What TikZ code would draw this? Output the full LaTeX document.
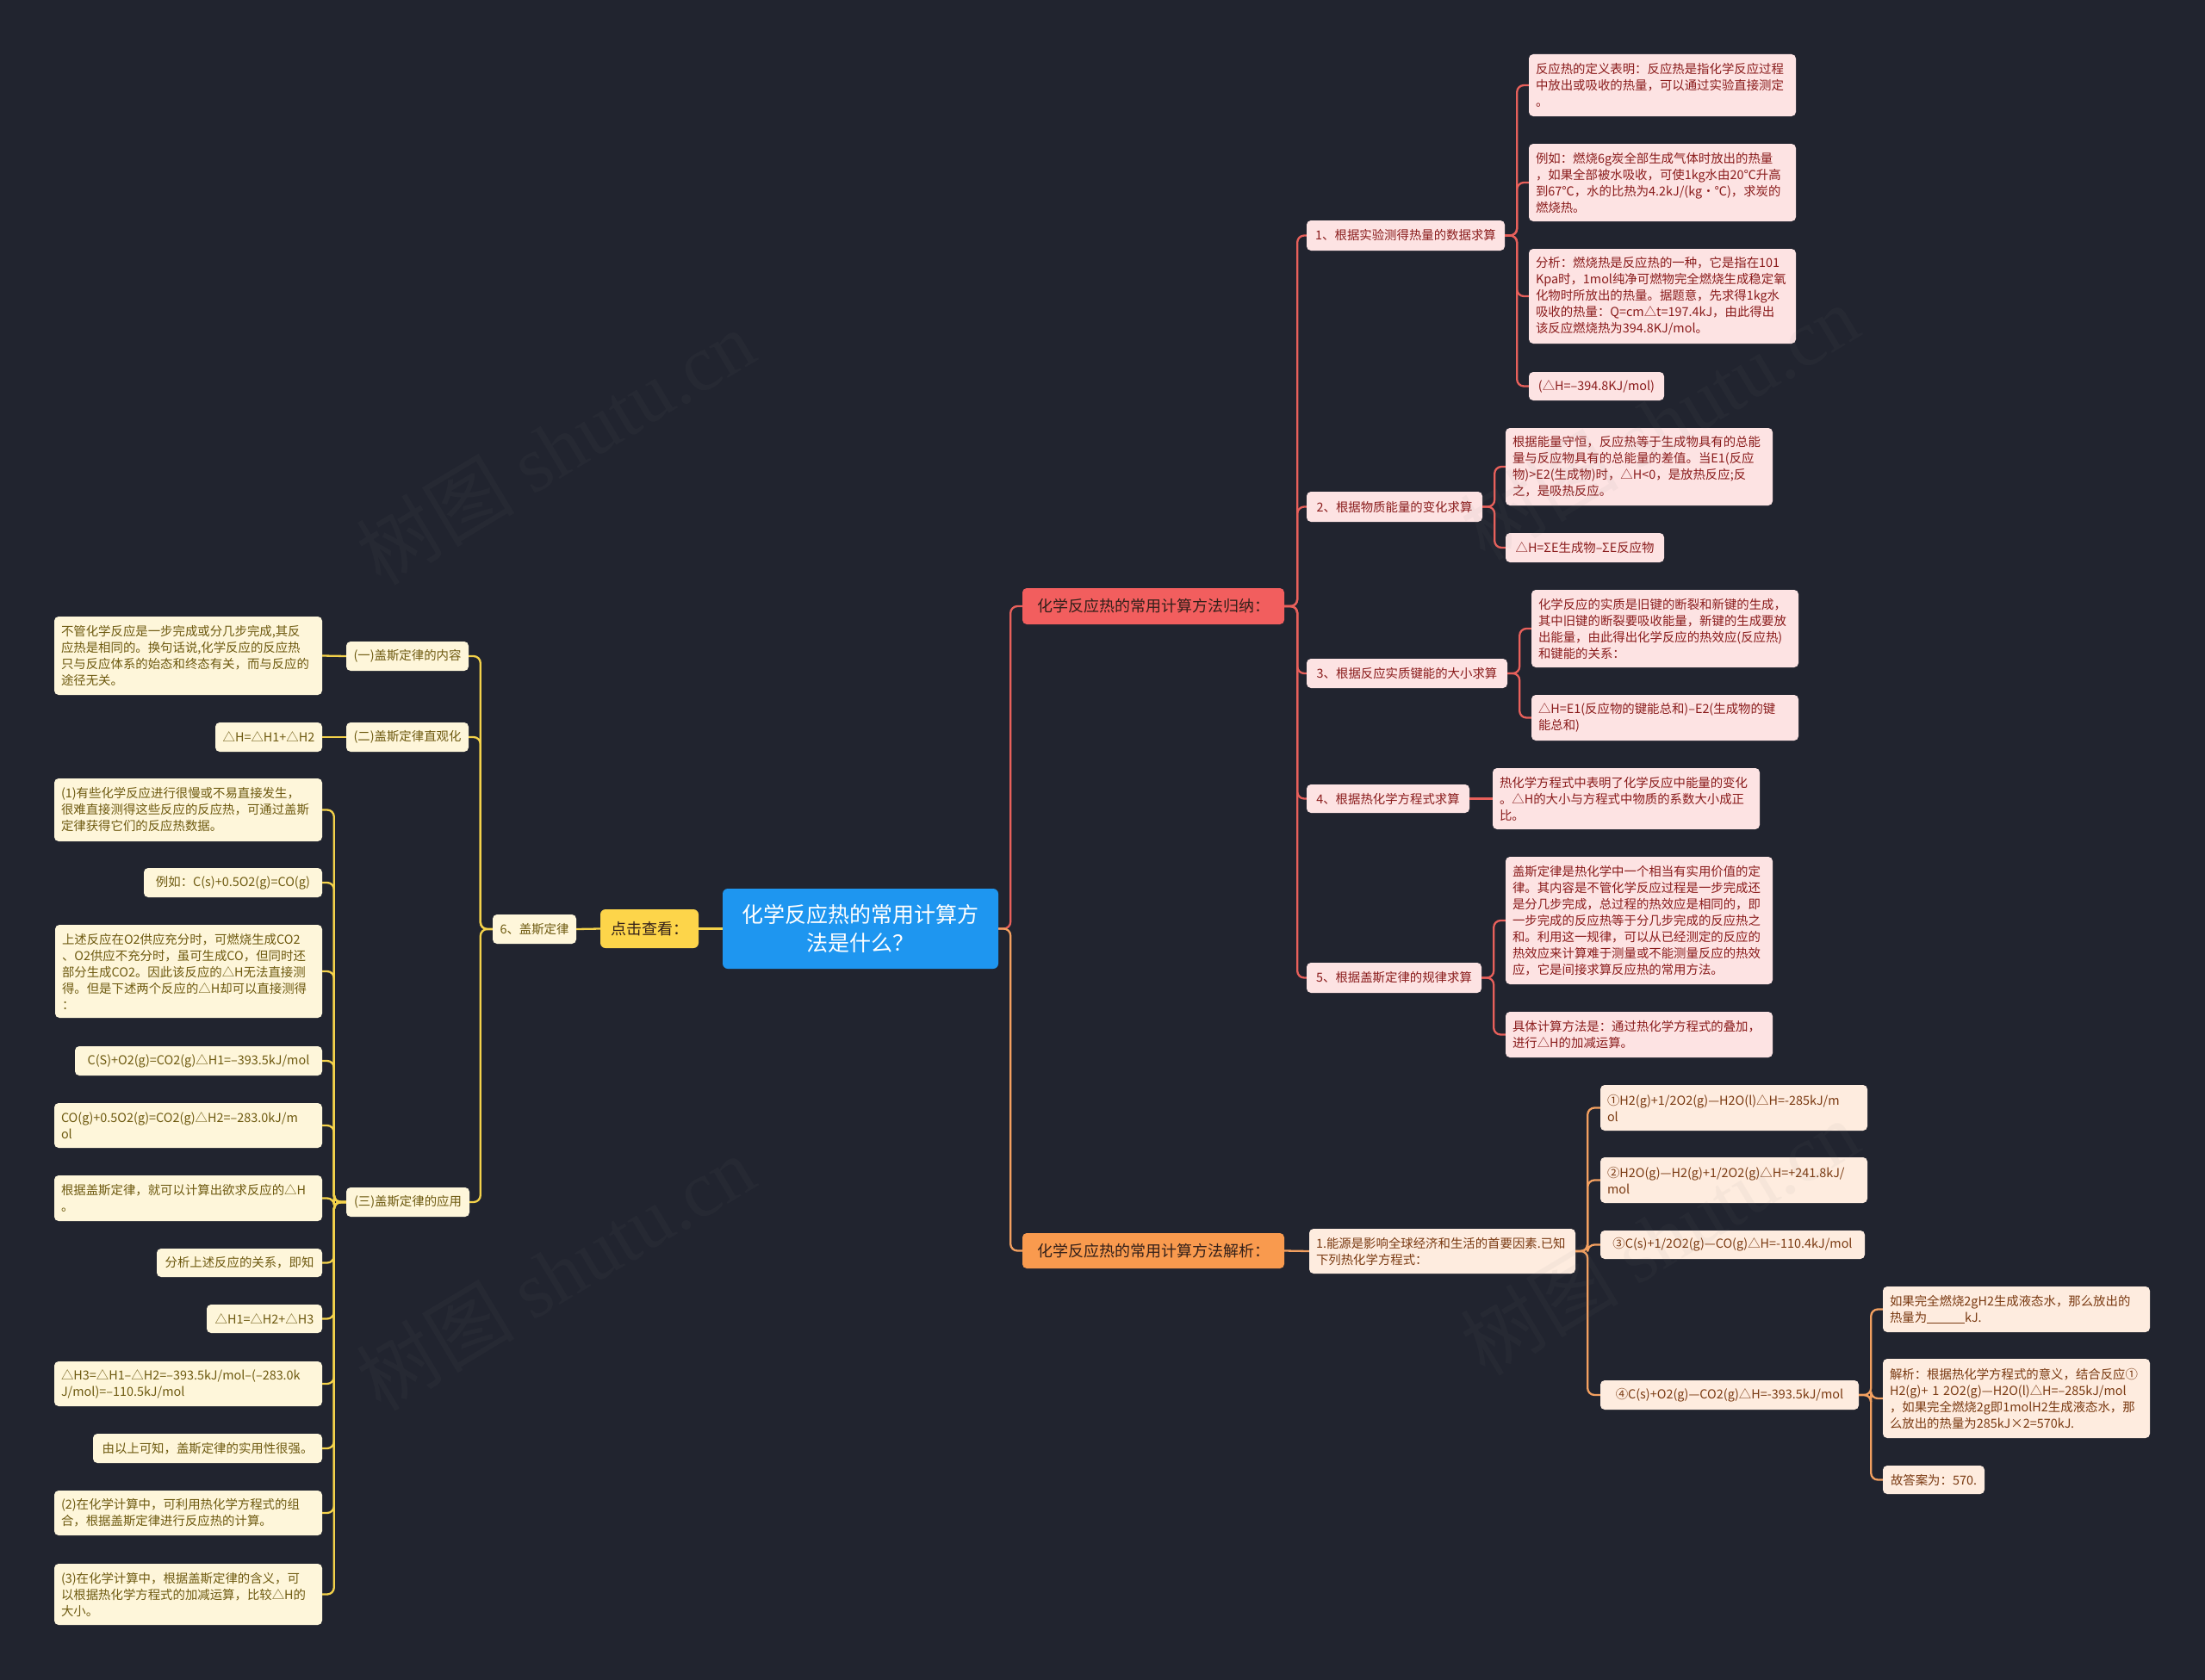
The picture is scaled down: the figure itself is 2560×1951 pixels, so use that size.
\documentclass[tikz,border=0pt]{standalone}
\usepackage{fontspec}
\setmainfont{Noto Sans CJK SC}
\newfontfamily\wmfont{Liberation Serif}
\usetikzlibrary{calc}
\definecolor{bg}{HTML}{21242F}
\definecolor{rfill}{HTML}{FDE3E3}
\definecolor{rtext}{HTML}{8A1C1C}
\definecolor{rline}{HTML}{E8605B}
\definecolor{rbr}{HTML}{F25E5E}
\definecolor{ofill}{HTML}{FEECDF}
\definecolor{otext}{HTML}{7A3A12}
\definecolor{oline}{HTML}{F3A060}
\definecolor{obr}{HTML}{F99A4E}
\definecolor{yfill}{HTML}{FEF6DA}
\definecolor{ytext}{HTML}{6E5A10}
\definecolor{yline}{HTML}{F4D24A}
\definecolor{ybr}{HTML}{FDD54A}
\definecolor{cblue}{HTML}{1E96F0}
\definecolor{dtext}{HTML}{33201A}
\newcommand\bx[7]{%
  \pgfmathsetmacro\bw{#5-#3}\pgfmathsetmacro\bh{#6-#4}%
  \pgfmathsetmacro\bcx{(#3+#5)/2}\pgfmathsetmacro\bcy{(#4+#6)/2}%
  \node[#1, minimum width=\bw pt, minimum height=\bh pt] (#2) at (\bcx,\bcy) {#7};}
\newcommand\mbx[7]{%
  \pgfmathsetmacro\bw{#5-#3}\pgfmathsetmacro\bh{#6-#4}\pgfmathsetmacro\btw{#5-#3-16}%
  \pgfmathsetmacro\bcx{(#3+#5)/2}\pgfmathsetmacro\bcy{(#4+#6)/2}%
  \node[align=left, #1, text width=\btw pt, minimum height=\bh pt] (#2) at (\bcx,\bcy) {#7};}
\begin{document}
\begin{tikzpicture}[x=1pt,y=-1pt,
  box/.style={rounded corners=5pt, inner xsep=8pt, inner ysep=3pt, font=\fontsize{14.4}{19}\selectfont},
  rbox/.style={box, fill=rfill, text=rtext},
  obox/.style={box, fill=ofill, text=otext},
  ybox/.style={box, fill=yfill, text=ytext},
  brbox/.style={rounded corners=5pt, inner xsep=10pt, inner ysep=3pt, font=\fontsize{18}{22}\selectfont},
  rl/.style={draw=rline, line width=2.3pt, rounded corners=8pt},
  ol/.style={draw=oline, line width=2.3pt, rounded corners=8pt},
  yl/.style={draw=yline, line width=2.3pt, rounded corners=8pt},
  wm/.style={text=gray, opacity=0.06, rotate=31, font=\fontsize{92}{92}\selectfont}]
\useasboundingbox (0,0) rectangle (2560,1951);
\fill[bg] (0,0) rectangle (2560,1951);

% central
\mbx{rounded corners=6pt, inner xsep=8pt, inner ysep=4pt, fill=cblue, text=white, font=\fontsize{25}{33}\selectfont, align=center}{C}{839}{1032}{1159}{1125}{化学反应热的常用计算方\\法是什么？}

% branches
\bx{brbox, fill=rbr, text=dtext}{RB}{1187}{683}{1491}{725}{化学反应热的常用计算方法归纳：}
\bx{brbox, fill=obr, text=dtext}{OB}{1187}{1432}{1491}{1473}{化学反应热的常用计算方法解析：}
\bx{brbox, fill=ybr, text=dtext, rounded corners=6pt}{YB}{697}{1056}{811}{1101}{点击查看：}

% red level 2
\bx{rbox}{R1}{1517}{256}{1747}{291}{1、根据实验测得热量的数据求算}
\bx{rbox}{R2}{1517}{571}{1721}{606}{2、根据物质能量的变化求算}
\bx{rbox}{R3}{1517}{765}{1750}{799}{3、根据反应实质键能的大小求算}
\bx{rbox}{R4}{1517}{911}{1706}{944}{4、根据热化学方程式求算}
\bx{rbox}{R5}{1517}{1118}{1720}{1153}{5、根据盖斯定律的规律求算}

% red leaves
\mbx{rbox}{R1a}{1775}{63}{2085}{135}{反应热的定义表明：反应热是指化学反应过程\\中放出或吸收的热量，可以通过实验直接测定\\。}
\mbx{rbox}{R1b}{1775}{167}{2085}{257}{例如：燃烧6g炭全部生成气体时放出的热量\\，如果全部被水吸收，可使1kg水由20℃升高\\到67℃，水的比热为4.2kJ/(kg·℃)，求炭的\\燃烧热。}
\mbx{rbox}{R1c}{1775}{289}{2085}{399}{分析：燃烧热是反应热的一种，它是指在101\\Kpa时，1mol纯净可燃物完全燃烧生成稳定氧\\化物时所放出的热量。据题意，先求得1kg水\\吸收的热量：Q=cm△t=197.4kJ，由此得出\\该反应燃烧热为394.8KJ/mol。}
\bx{rbox}{R1d}{1775}{432}{1932}{465}{(△H=–394.8KJ/mol)}
\mbx{rbox}{R2a}{1748}{497}{2058}{587}{根据能量守恒，反应热等于生成物具有的总能\\量与反应物具有的总能量的差值。当E1(反应\\物)>E2(生成物)时，△H<0，是放热反应;反\\之，是吸热反应。}
\bx{rbox}{R2b}{1748}{619}{1932}{653}{△H=ΣE生成物–ΣE反应物}
\mbx{rbox}{R3a}{1778}{685}{2088}{775}{化学反应的实质是旧键的断裂和新键的生成，\\其中旧键的断裂要吸收能量，新键的生成要放\\出能量，由此得出化学反应的热效应(反应热)\\和键能的关系：}
\mbx{rbox}{R3b}{1778}{807}{2088}{860}{△H=E1(反应物的键能总和)–E2(生成物的键\\能总和)}
\mbx{rbox}{R4a}{1733}{892}{2043}{963}{热化学方程式中表明了化学反应中能量的变化\\。△H的大小与方程式中物质的系数大小成正\\比。}
\mbx{rbox}{R5a}{1748}{995}{2058}{1143}{盖斯定律是热化学中一个相当有实用价值的定\\律。其内容是不管化学反应过程是一步完成还\\是分几步完成，总过程的热效应是相同的，即\\一步完成的反应热等于分几步完成的反应热之\\和。利用这一规律，可以从已经测定的反应的\\热效应来计算难于测量或不能测量反应的热效\\应，它是间接求算反应热的常用方法。}
\mbx{rbox}{R5b}{1748}{1175}{2058}{1228}{具体计算方法是：通过热化学方程式的叠加，\\进行△H的加减运算。}

% orange
\mbx{obox}{O1}{1520}{1427}{1829}{1479}{1.能源是影响全球经济和生活的首要因素.已知\\下列热化学方程式：}
\mbx{obox}{O1a}{1858}{1260}{2168}{1313}{①H2(g)+1/2O2(g)—H2O(l)△H=-285kJ/m\\ol}
\mbx{obox}{O1b}{1858}{1344}{2168}{1397}{②H2O(g)—H2(g)+1/2O2(g)△H=+241.8kJ/\\mol}
\bx{obox}{O1c}{1858}{1429}{2165}{1462}{③C(s)+1/2O2(g)—CO(g)△H=-110.4kJ/mol}
\bx{obox}{O1d}{1858}{1603}{2158}{1637}{④C(s)+O2(g)—CO2(g)△H=-393.5kJ/mol}
\mbx{obox}{O4a}{2186}{1494}{2496}{1547}{如果完全燃烧2gH2生成液态水，那么放出的\\热量为\rule[-2pt]{44pt}{0.8pt}kJ.}
\mbx{obox}{O4b}{2186}{1578}{2496}{1670}{解析：根据热化学方程式的意义，结合反应①\\H2(g)+ 1 2O2(g)—H2O(l)△H=–285kJ/mol\\，如果完全燃烧2g即1molH2生成液态水，那\\么放出的热量为285kJ×2=570kJ.}
\bx{obox}{O4c}{2186}{1702}{2304}{1735}{故答案为：570.}

% yellow
\bx{ybox}{Y6}{572}{1062}{669}{1096}{6、盖斯定律}
\bx{ybox}{Y1}{402}{745}{544}{779}{(一)盖斯定律的内容}
\bx{ybox}{Y2}{402}{839}{544}{873}{(二)盖斯定律直观化}
\bx{ybox}{Y3}{402}{1379}{545}{1413}{(三)盖斯定律的应用}
\mbx{ybox}{Y1a}{63}{716}{374}{807}{不管化学反应是一步完成或分几步完成,其反\\应热是相同的。换句话说,化学反应的反应热\\只与反应体系的始态和终态有关，而与反应的\\途径无关。}
\bx{ybox}{Y2a}{250}{839}{374}{873}{△H=△H1+△H2}
\mbx{ybox}{c1}{63}{904}{374}{977}{(1)有些化学反应进行很慢或不易直接发生，\\很难直接测得这些反应的反应热，可通过盖斯\\定律获得它们的反应热数据。}
\bx{ybox}{c2}{167}{1008}{374}{1042}{例如：C(s)+0.5O2(g)=CO(g)}
\mbx{ybox}{c3}{64}{1074}{374}{1182}{上述反应在O2供应充分时，可燃烧生成CO2\\、O2供应不充分时，虽可生成CO，但同时还\\部分生成CO2。因此该反应的△H无法直接测\\得。但是下述两个反应的△H却可以直接测得\\：}
\bx{ybox}{c4}{87}{1215}{374}{1249}{C(S)+O2(g)=CO2(g)△H1=–393.5kJ/mol}
\mbx{ybox}{c5}{63}{1281}{374}{1333}{CO(g)+0.5O2(g)=CO2(g)△H2=–283.0kJ/m\\ol}
\mbx{ybox}{c6}{63}{1365}{374}{1418}{根据盖斯定律，就可以计算出欲求反应的△H\\。}
\bx{ybox}{c7}{182}{1450}{374}{1483}{分析上述反应的关系，即知}
\bx{ybox}{c8}{240}{1515}{374}{1548}{△H1=△H2+△H3}
\mbx{ybox}{c9}{63}{1581}{374}{1633}{△H3=△H1–△H2=–393.5kJ/mol–(–283.0k\\J/mol)=–110.5kJ/mol}
\bx{ybox}{c10}{108}{1665}{374}{1699}{由以上可知，盖斯定律的实用性很强。}
\mbx{ybox}{c11}{63}{1731}{374}{1783}{(2)在化学计算中，可利用热化学方程式的组\\合，根据盖斯定律进行反应热的计算。}
\mbx{ybox}{c12}{63}{1816}{374}{1887}{(3)在化学计算中，根据盖斯定律的含义，可\\以根据热化学方程式的加减运算，比较△H的\\大小。}

% central -> branches
\draw[rl] (C.east) -- ++(14,0) |- (RB.west);
\draw[ol] (C.east) -- ++(14,0) |- (OB.west);
\draw[yl] (C.west) -- (YB.east);
\draw[yl] (YB.west) -- (Y6.east);
% red
\foreach \n in {R1,R2,R3,R4,R5} \draw[rl] (RB.east) -- ++(15,0) |- (\n.west);
\foreach \n in {R1a,R1b,R1c,R1d} \draw[rl] (R1.east) -- ++(14,0) |- (\n.west);
\foreach \n in {R2a,R2b} \draw[rl] (R2.east) -- ++(14,0) |- (\n.west);
\foreach \n in {R3a,R3b} \draw[rl] (R3.east) -- ++(14,0) |- (\n.west);
\draw[rl] (R4.east) -- (R4a.west);
\foreach \n in {R5a,R5b} \draw[rl] (R5.east) -- ++(14,0) |- (\n.west);
% orange
\draw[ol] (OB.east) -- (O1.west);
\foreach \n in {O1a,O1b,O1c,O1d} \draw[ol] (O1.east) -- ++(14,0) |- (\n.west);
\foreach \n in {O4a,O4b,O4c} \draw[ol] (O1d.east) -- ++(14,0) |- (\n.west);
% yellow
\foreach \n in {Y1,Y2,Y3} \draw[yl] (Y6.west) -- ++(-14,0) |- (\n.east);
\draw[yl] (Y1.west) -- (Y1a.east);
\draw[yl] (Y2.west) -- (Y2a.east);
\foreach \n in {c1,c2,c3,c4,c5,c6,c7,c8,c9,c10,c11,c12} \draw[yl] (Y3.west) -- ++(-14,0) |- (\n.east);

% watermarks
\node[wm] (w1) at (645,519) {树图 {\wmfont shutu.cn}};
\node[wm] (w2) at (1927,490) {树图 {\wmfont shutu.cn}};
\node[wm] (w3) at (645,1478) {树图 {\wmfont shutu.cn}};
\node[wm] (w4) at (1927,1437) {树图 {\wmfont shutu.cn}};
\end{tikzpicture}
\end{document}
